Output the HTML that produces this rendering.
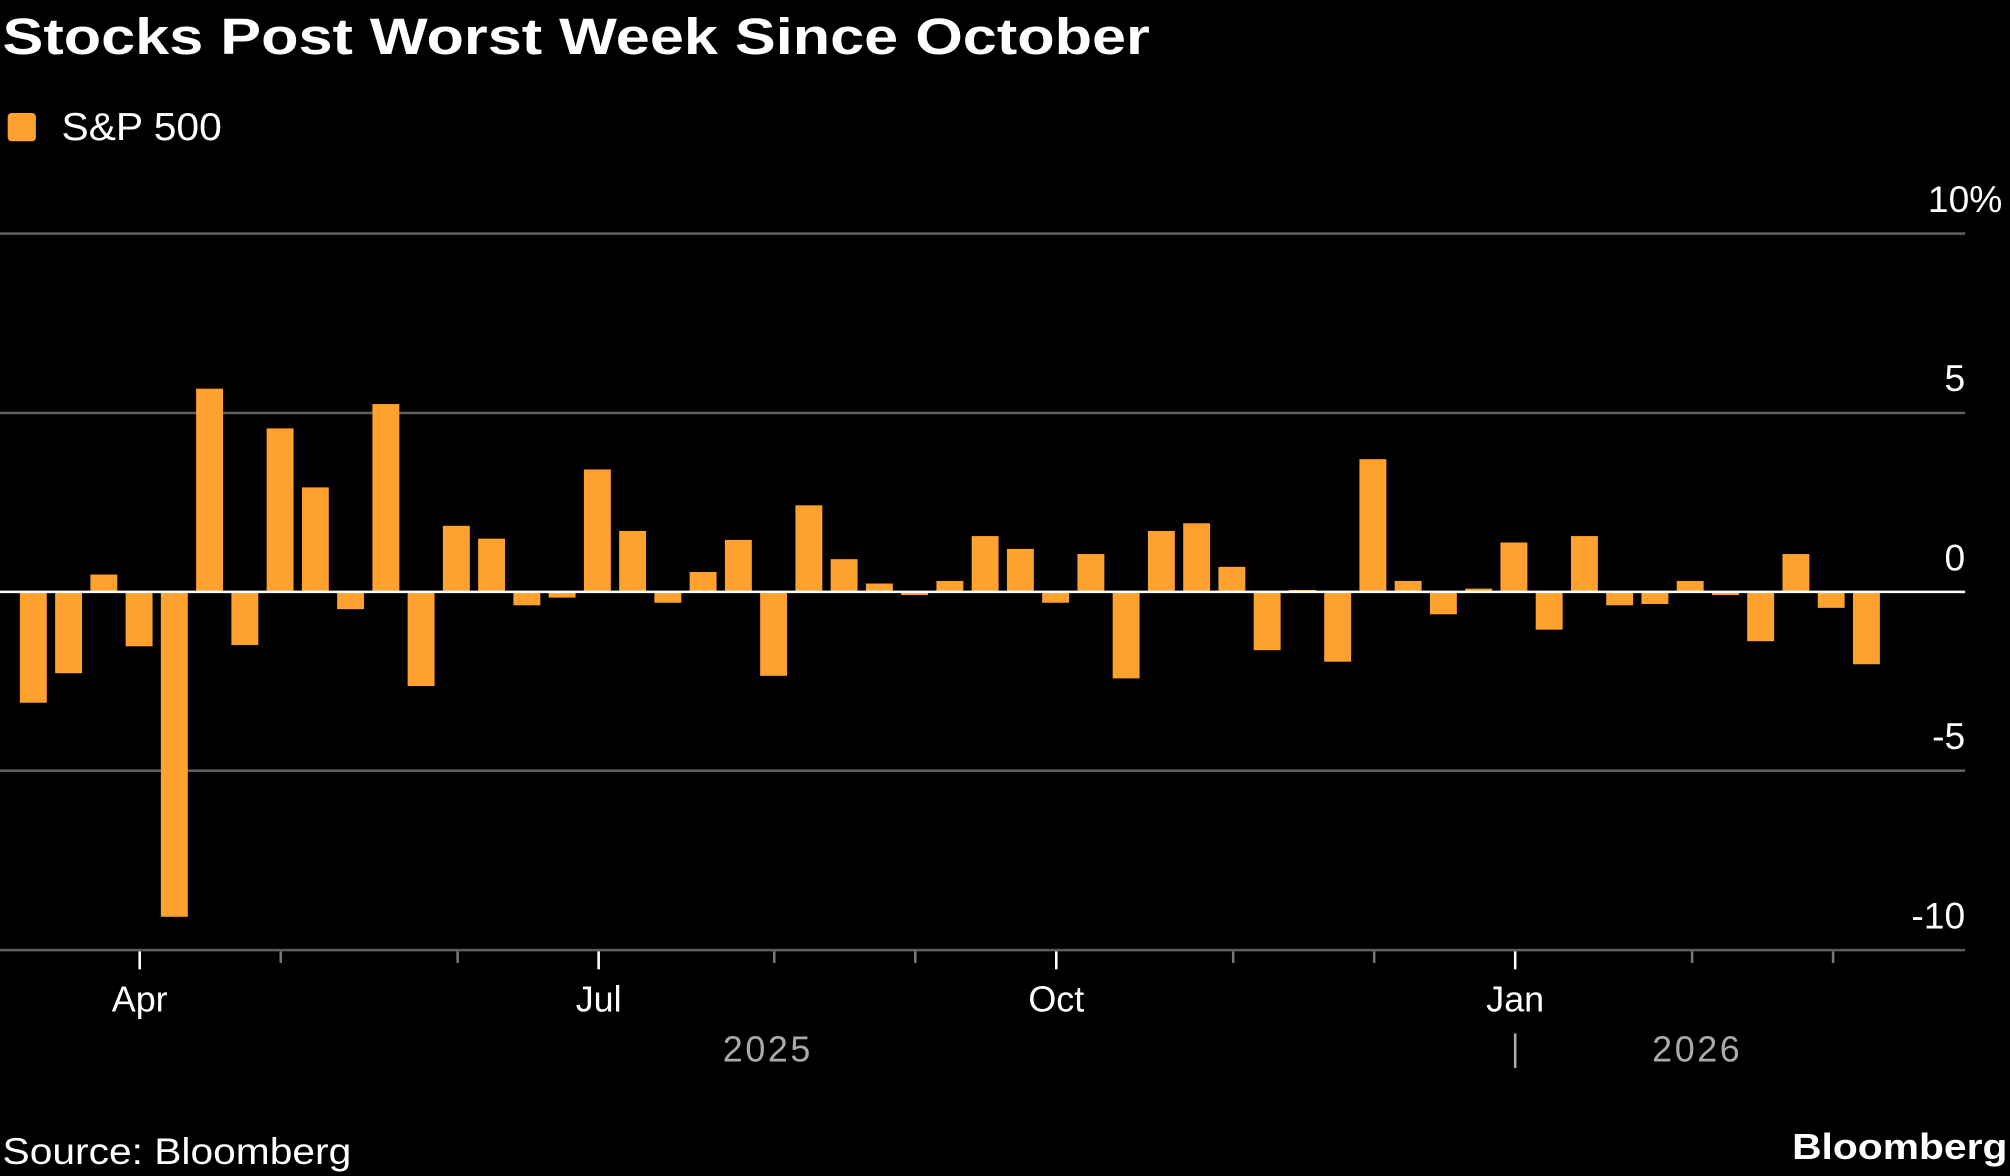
<!DOCTYPE html>
<html><head><meta charset="utf-8"><style>
html,body{margin:0;padding:0;background:#000;width:2010px;height:1176px;overflow:hidden}
svg{display:block}
text{font-family:"Liberation Sans","DejaVu Sans",sans-serif}
</style></head><body>
<svg width="2010" height="1176" viewBox="0 0 1568 917" xmlns="http://www.w3.org/2000/svg">
<rect width="1568" height="917" fill="#000"/>
<text x="2" y="42" font-size="40" font-weight="bold" fill="#fff" textLength="895" lengthAdjust="spacingAndGlyphs">Stocks Post Worst Week Since October</text>
<rect x="6" y="88" width="22" height="22" rx="3" fill="#ffa12e"/>
<text x="48" y="109" font-size="30" fill="#fff" textLength="125" lengthAdjust="spacingAndGlyphs">S&amp;P 500</text>
<g stroke="#5e5e5e" stroke-width="2">
<line x1="0" y1="182" x2="1533" y2="182"/>
<line x1="0" y1="322" x2="1533" y2="322"/>
<line x1="0" y1="601" x2="1533" y2="601"/>
<line x1="0" y1="741" x2="1533" y2="741"/>
</g>
<g font-size="29" fill="#fff" text-anchor="end">
<text x="1562" y="165">10%</text>
<text x="1533" y="305">5</text>
<text x="1533" y="445">0</text>
<text x="1533" y="584">-5</text>
<text x="1533" y="724">-10</text>
</g>
<g fill="#ffa12e">
<rect x="15.5" y="461" width="21" height="87"/>
<rect x="43" y="461" width="21" height="64"/>
<rect x="70.5" y="448" width="21" height="13"/>
<rect x="98" y="461" width="21" height="43"/>
<rect x="125.5" y="461" width="21" height="254"/>
<rect x="153" y="303" width="21" height="158"/>
<rect x="180.5" y="461" width="21" height="42"/>
<rect x="208" y="334" width="21" height="127"/>
<rect x="235.5" y="380" width="21" height="81"/>
<rect x="263" y="461" width="21" height="14"/>
<rect x="290.5" y="315" width="21" height="146"/>
<rect x="318" y="461" width="21" height="74"/>
<rect x="345.5" y="410" width="21" height="51"/>
<rect x="373" y="420" width="21" height="41"/>
<rect x="400.5" y="461" width="21" height="11"/>
<rect x="428" y="461" width="21" height="5"/>
<rect x="455.5" y="366" width="21" height="95"/>
<rect x="483" y="414" width="21" height="47"/>
<rect x="510.5" y="461" width="21" height="9"/>
<rect x="538" y="446" width="21" height="15"/>
<rect x="565.5" y="421" width="21" height="40"/>
<rect x="593" y="461" width="21" height="66"/>
<rect x="620.5" y="394" width="21" height="67"/>
<rect x="648" y="436" width="21" height="25"/>
<rect x="675.5" y="455" width="21" height="6"/>
<rect x="703" y="461" width="21" height="3"/>
<rect x="730.5" y="453" width="21" height="8"/>
<rect x="758" y="418" width="21" height="43"/>
<rect x="785.5" y="428" width="21" height="33"/>
<rect x="813" y="461" width="21" height="9"/>
<rect x="840.5" y="432" width="21" height="29"/>
<rect x="868" y="461" width="21" height="68"/>
<rect x="895.5" y="414" width="21" height="47"/>
<rect x="923" y="408" width="21" height="53"/>
<rect x="950.5" y="442" width="21" height="19"/>
<rect x="978" y="461" width="21" height="46"/>
<rect x="1005.5" y="460" width="21" height="1"/>
<rect x="1033" y="461" width="21" height="55"/>
<rect x="1060.5" y="358" width="21" height="103"/>
<rect x="1088" y="453" width="21" height="8"/>
<rect x="1115.5" y="461" width="21" height="18"/>
<rect x="1143" y="459" width="21" height="2"/>
<rect x="1170.5" y="423" width="21" height="38"/>
<rect x="1198" y="461" width="21" height="30"/>
<rect x="1225.5" y="418" width="21" height="43"/>
<rect x="1253" y="461" width="21" height="11"/>
<rect x="1280.5" y="461" width="21" height="10"/>
<rect x="1308" y="453" width="21" height="8"/>
<rect x="1335.5" y="461" width="21" height="3"/>
<rect x="1363" y="461" width="21" height="39"/>
<rect x="1390.5" y="432" width="21" height="29"/>
<rect x="1418" y="461" width="21" height="13"/>
<rect x="1445.5" y="461" width="21" height="57"/>
</g>
<line x1="0" y1="461.5" x2="1533" y2="461.5" stroke="#fff" stroke-width="2"/>
<g stroke="#777" stroke-width="2">
<line x1="219" y1="742" x2="219" y2="751"/>
<line x1="357" y1="742" x2="357" y2="751"/>
<line x1="604" y1="742" x2="604" y2="751"/>
<line x1="714" y1="742" x2="714" y2="751"/>
<line x1="962" y1="742" x2="962" y2="751"/>
<line x1="1072" y1="742" x2="1072" y2="751"/>
<line x1="1320" y1="742" x2="1320" y2="751"/>
<line x1="1430" y1="742" x2="1430" y2="751"/>
</g>
<g stroke="#fff" stroke-width="2">
<line x1="109" y1="742" x2="109" y2="756"/>
<line x1="467" y1="742" x2="467" y2="756"/>
<line x1="824" y1="742" x2="824" y2="756"/>
<line x1="1182" y1="742" x2="1182" y2="756"/>
</g>
<g font-size="28" fill="#fff" text-anchor="middle">
<text x="109" y="789">Apr</text>
<text x="467" y="789">Jul</text>
<text x="824" y="789">Oct</text>
<text x="1182" y="789">Jan</text>
</g>
<g font-size="28" fill="#aaa" text-anchor="middle">
<text x="599" y="828" letter-spacing="2">2025</text>
<text x="1324" y="828" letter-spacing="2">2026</text>
</g>
<line x1="1182" y1="806" x2="1182" y2="833" stroke="#aaa" stroke-width="2"/>
<text x="2" y="908" font-size="29" fill="#fff" textLength="272" lengthAdjust="spacingAndGlyphs">Source: Bloomberg</text>
<text x="1398" y="904" font-size="28" font-weight="bold" fill="#fff" textLength="168" lengthAdjust="spacingAndGlyphs">Bloomberg</text>
</svg>
</body></html>
